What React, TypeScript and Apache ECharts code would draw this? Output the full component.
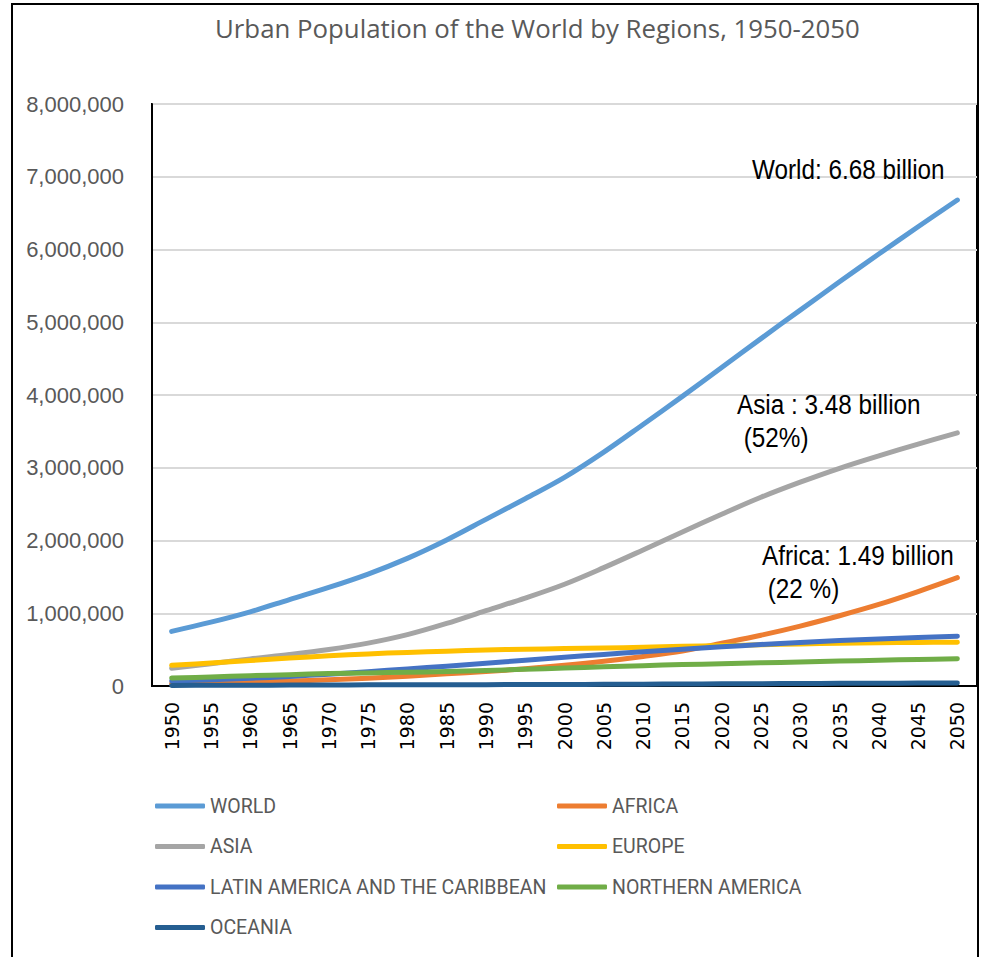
import React, { useEffect, useRef } from "react";
import * as echarts from "echarts";

const years = ["1950","1955","1960","1965","1970","1975","1980","1985","1990","1995","2000","2005","2010","2015","2020","2025","2030","2035","2040","2045","2050"];

const world = [751000, 877000, 1019000, 1188000, 1354000, 1538000, 1754000, 2007000, 2290000, 2575000, 2868000, 3215000, 3595000, 3981000, 4379000, 4775000, 5167000, 5556000, 5938000, 6312000, 6680000];
const africa = [32700, 41000, 53000, 68000, 85000, 107000, 134000, 167000, 200000, 238000, 285000, 340000, 406000, 482000, 588000, 698000, 824000, 966000, 1121000, 1298000, 1489000];
const asia = [245000, 305000, 373000, 432000, 501000, 589000, 706000, 860000, 1036000, 1209000, 1399000, 1627000, 1870000, 2118000, 2361000, 2594000, 2802000, 2993000, 3164000, 3325000, 3479000];
const europe = [284000, 316000, 349000, 384000, 415000, 441000, 462000, 479000, 495000, 505000, 514000, 522000, 533000, 545000, 556000, 567000, 578000, 587000, 594000, 599000, 602000];
const latinAmerica = [69000, 86000, 107000, 131000, 163000, 197000, 234000, 272000, 313000, 354000, 396000, 434000, 470000, 505000, 539000, 570000, 599000, 624000, 646000, 666000, 685000];
const northernAmerica = [110000, 124000, 142000, 156000, 171000, 180000, 188000, 199000, 212000, 230000, 247000, 264000, 280000, 294000, 305000, 318000, 330000, 342000, 354000, 365000, 375000];
const oceania = [8000, 9400, 11000, 12900, 14400, 15600, 16200, 17300, 18600, 20000, 21200, 23000, 25200, 27600, 29900, 32000, 34200, 36200, 38200, 40000, 41800];

const seriesNames = ["WORLD", "AFRICA", "ASIA", "EUROPE", "LATIN AMERICA AND THE CARIBBEAN", "NORTHERN AMERICA", "OCEANIA"];
const seriesData = [world, africa, asia, europe, latinAmerica, northernAmerica, oceania];
const seriesColors = ["#5B9BD5", "#ED7D31", "#A5A5A5", "#FFC000", "#4472C4", "#70AD47", "#255E91"];

const title = "Urban Population of the World by Regions, 1950-2050";
const annotations = [
  { text: "World: 6.68 billion", x: 752, y: 170 },
  { text: "Asia : 3.48 billion", x: 737, y: 405 },
  { text: " (52%)", x: 737, y: 438 },
  { text: "Africa: 1.49 billion", x: 762, y: 556 },
  { text: " (22 %)", x: 761, y: 589 },
];

export default function App() {
  const ref = useRef<HTMLDivElement>(null);
  useEffect(() => {
    document.body.style.margin = "0";
    const chart = echarts.init(ref.current!, null, { renderer: "svg" });
    const legendText = { color: "#595959", fontSize: 19.5, fontFamily: "Roboto, sans-serif", lineHeight: 22 };
    const legendBase = {
      top: 795,
      orient: "vertical",
      itemGap: 18.5,
      itemWidth: 50,
      itemHeight: 5,
      icon: "roundRect",
      padding: 0,
      textStyle: legendText,
    };
    chart.setOption({
      animation: false,
      backgroundColor: "#ffffff",
      title: {
        text: title,
        left: 215,
        top: 13,
        padding: 0,
        textStyle: { color: "#595959", fontSize: 25.8, fontWeight: "normal", fontFamily: "'Open Sans', sans-serif", lineHeight: 30 },
      },
      grid: {
        left: 152,
        right: 5,
        top: 104,
        bottom: 271,
        show: true,
        borderColor: "#000000",
        borderWidth: 2,
        backgroundColor: "transparent",
      },
      legend: [
        { ...legendBase, left: 155, data: ["WORLD", "ASIA", "LATIN AMERICA AND THE CARIBBEAN", "OCEANIA"] },
        { ...legendBase, left: 557, data: ["AFRICA", "EUROPE", "NORTHERN AMERICA"] },
      ],
      xAxis: {
        type: "category",
        data: years,
        boundaryGap: true,
        axisLine: { show: true, lineStyle: { color: "#000000", width: 2 } },
        axisTick: { show: false },
        axisLabel: {
          interval: 0,
          rotate: 90,
          margin: 16,
          color: "#000000",
          fontSize: 19,
          fontFamily: "'DejaVu Sans', sans-serif",
        },
      },
      yAxis: {
        type: "value",
        min: 0,
        max: 8000000,
        interval: 1000000,
        axisLine: { show: true, lineStyle: { color: "#000000", width: 2 } },
        axisTick: { show: false },
        splitLine: { show: true, lineStyle: { color: "#D9D9D9", width: 2 } },
        axisLabel: {
          margin: 28,
          color: "#595959",
          fontSize: 22,
          fontFamily: "'Liberation Sans', Arial, sans-serif",
          formatter: (v: number) => v.toLocaleString("en-US"),
        },
      },
      series: seriesNames.map((name, i) => ({
        name,
        type: "line",
        data: seriesData[i],
        smooth: 0.35,
        showSymbol: false,
        symbol: "none",
        color: seriesColors[i],
        lineStyle: { width: 5, color: seriesColors[i], cap: "round", join: "round" },
        z: 2 + i,
      })),
      graphic: [
        {
          type: "rect",
          shape: { x: 12, y: 4, width: 966, height: 1000 },
          style: { fill: "none", stroke: "#000000", lineWidth: 2 },
          silent: true,
          z: 100,
        },
        ...annotations.map((a) => ({
          type: "text",
          x: a.x,
          y: a.y,
          scaleX: 0.9,
          style: {
            text: a.text,
            fill: "#000000",
            font: "27px 'Liberation Sans', sans-serif",
            verticalAlign: "middle",
            align: "left",
          },
          z: 100,
        })),
      ],
    });
    return () => chart.dispose();
  }, []);
  return <div ref={ref} style={{ width: 982, height: 957 }} />;
}
